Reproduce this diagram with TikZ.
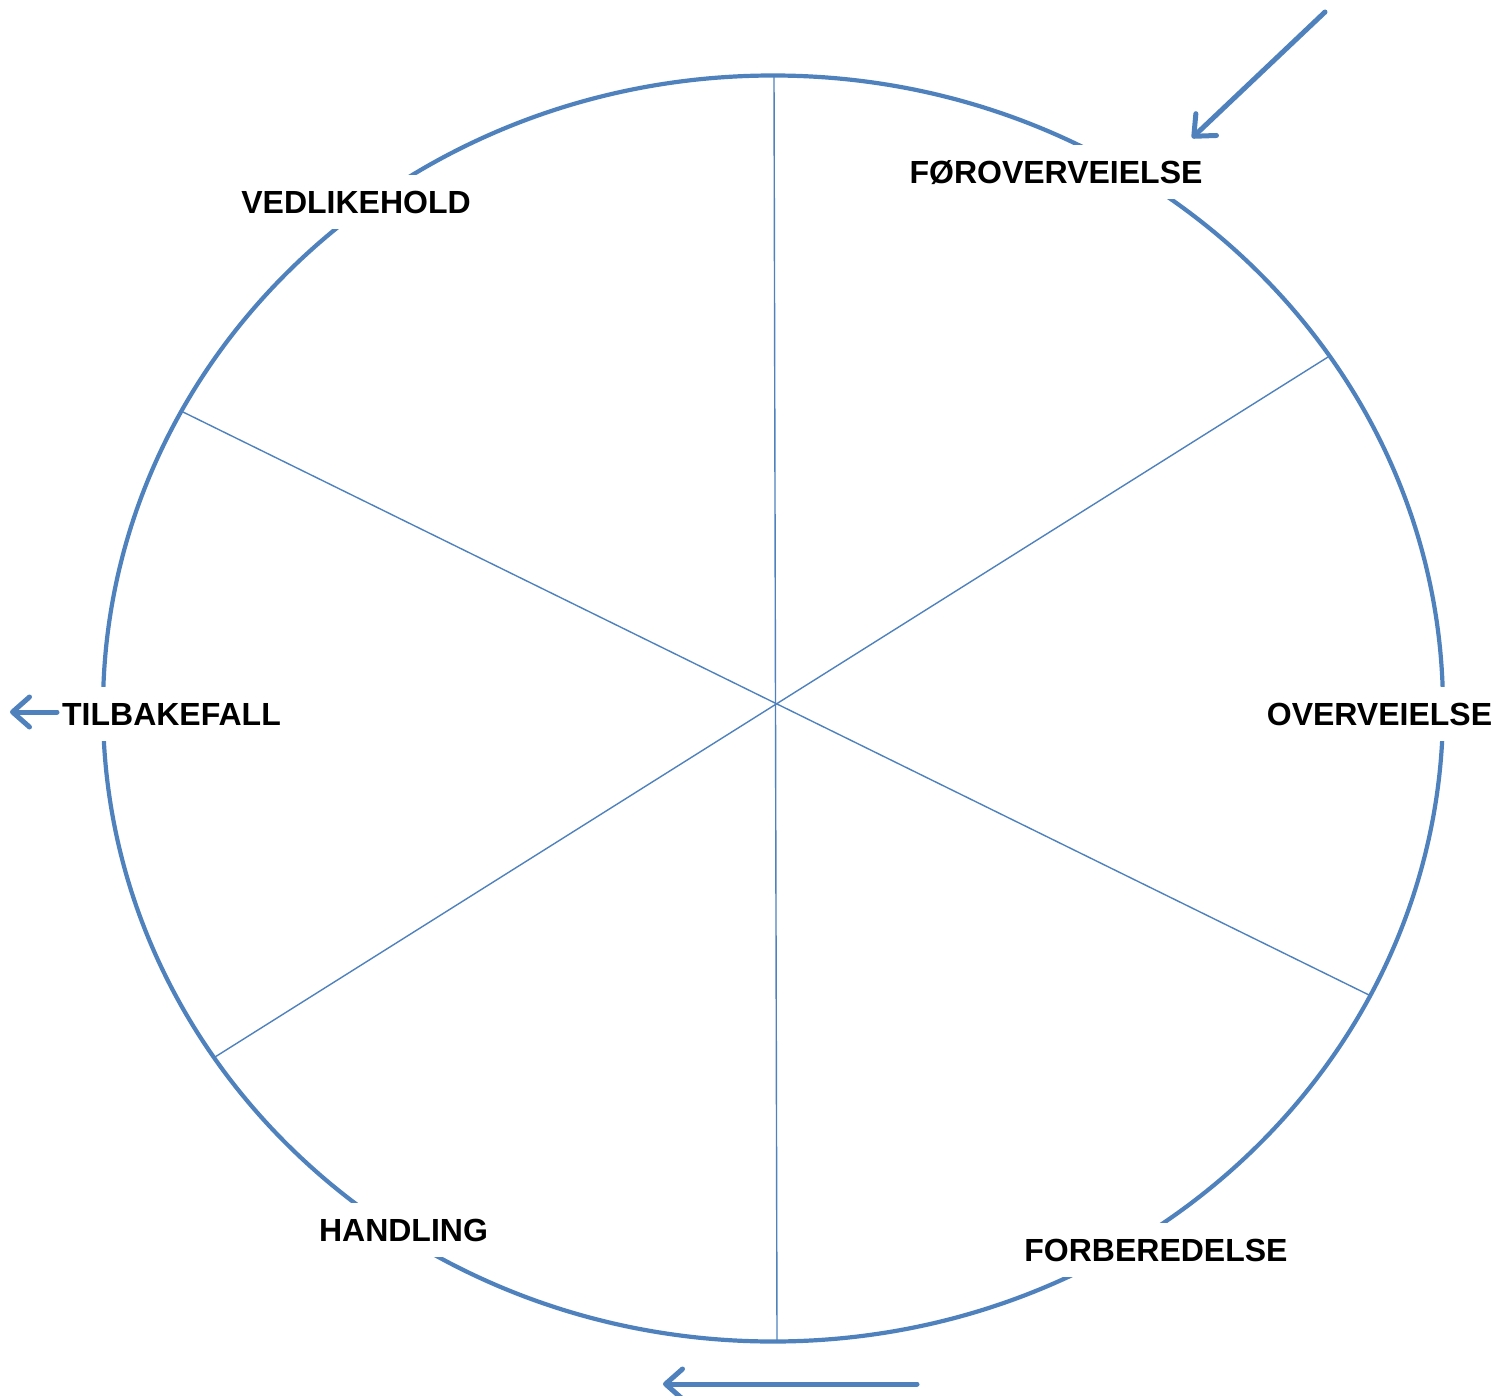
\documentclass[tikz,border=0pt]{standalone}
\usepackage{fontspec}
\setmainfont{Liberation Sans}
\usetikzlibrary{arrows.meta}
\definecolor{wheelblue}{HTML}{4F81BD}
\tikzset{
  spoke/.style={draw=wheelblue, line width=1.4pt},
  rim/.style={draw=wheelblue, line width=4.2pt},
  flow/.style={draw=wheelblue, line width=5pt, line cap=round,
    -{Straight Barb[length=17pt, width=30pt, line cap=round, line join=round]}},
  stage/.style={fill=white, inner xsep=8pt, inner ysep=15.5pt,
    text height=23pt, text depth=0pt,
    font=\fontsize{32}{38}\selectfont\bfseries}
}
\begin{document}
\begin{tikzpicture}[x=1pt,y=-1pt]
\useasboundingbox (0,0) rectangle (1509,1396);
% spokes
\coordinate (c) at (777,703);
\coordinate (s1) at (774,76);
\coordinate (s2) at (777,1341);
\coordinate (s3) at (1328,357);
\coordinate (s4) at (215,1057);
\coordinate (s5) at (183,412);
\coordinate (s6) at (1369,995);
\draw[spoke] (s1) -- (s2);
\draw[spoke] (s3) -- (s4);
\draw[spoke] (s5) -- (s6);
% rim
\draw[rim] (773,708.5) ellipse [x radius=670, y radius=633];
% labels
\node[stage] (foro) at (1056,172) {FØROVERVEIELSE};
\node[stage] (over) at (1379.5,714) {OVERVEIELSE};
\node[stage] (forb) at (1156,1250) {FORBEREDELSE};
\node[stage] (hand) at (403.5,1230) {HANDLING};
\node[stage] (tilb) at (171.5,714) {TILBAKEFALL};
\node[stage] (vedl) at (356,202) {VEDLIKEHOLD};
% arrows
\coordinate (a1s) at (1325,12);
\coordinate (a1e) at (1192,138);
\coordinate (a2s) at (57,712);
\coordinate (a2e) at (10,712);
\coordinate (a3s) at (917,1384);
\coordinate (a3e) at (663,1384);
\draw[flow] (a1s) -- (a1e);
\draw[flow] (a2s) -- (a2e);
\draw[flow] (a3s) -- (a3e);
\end{tikzpicture}
\end{document}
